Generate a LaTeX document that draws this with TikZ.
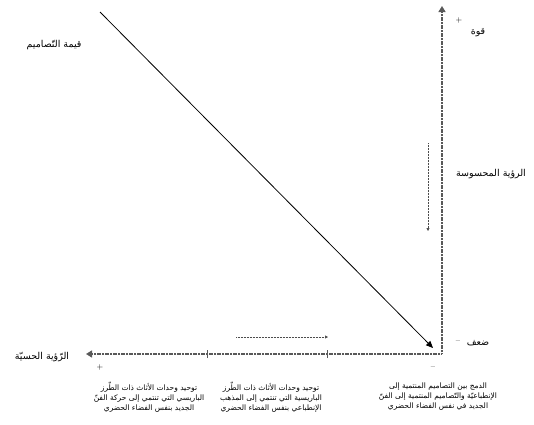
\documentclass[tikz,border=0pt]{standalone}
\usepackage{fontspec}
\newfontfamily\arabicfont[Script=Arabic]{DejaVu Sans}
\TeXXeTstate=1
\usetikzlibrary{arrows.meta}
\begin{document}
\begin{tikzpicture}[x=1pt,y=-1pt,
  axis/.style={draw=gray!70!black,line width=1.4pt,dash pattern=on 1.2pt off 0.4pt},
  lbl/.style={font=\arabicfont\fontsize{7.5}{10}\selectfont,inner sep=0pt,align=center},
  big/.style={font=\arabicfont\fontsize{9.5}{11}\selectfont,inner sep=0pt},
  sgn/.style={font=\fontsize{8}{9}\selectfont,inner sep=0pt},
  tick/.style={draw=gray!70!black,line width=0.6pt}]
\useasboundingbox (0,0) rectangle (534,424);
% axes
\coordinate (O) at (442,354);
\coordinate (Ytop) at (442,6);
\coordinate (Xleft) at (86,354);
\draw[axis,-{Triangle[length=6pt,width=7pt]}] (O) -- (Ytop);
\draw[axis,-{Triangle[length=6pt,width=7pt]}] (O) -- (Xleft);
\coordinate (T1) at (207,354);
\coordinate (T2) at (327,354);
\draw[tick] ([yshift=-4pt]T1) -- ([yshift=4pt]T1);
\draw[tick] ([yshift=-4pt]T2) -- ([yshift=4pt]T2);
% diagonal
\coordinate (D1) at (100,12);
\coordinate (D2) at (433,348);
\draw[line width=0.8pt,-{Triangle[length=7pt,width=6pt]}] (D1) -- (D2);
% dotted arrows
\coordinate (V1) at (428,143);
\coordinate (V2) at (428,231);
\draw[densely dotted,gray!60!black,line width=0.5pt,-{Triangle[length=3pt,width=3pt]}] (V1) -- (V2);
\coordinate (H1) at (236,337);
\coordinate (H2) at (328,337);
\draw[densely dotted,gray!60!black,line width=0.5pt,-{Triangle[length=3pt,width=3pt]}] (H1) -- (H2);
% signs
\node[sgn] (p1) at (459,20) {+};
\node[sgn] (m1) at (458,342) {--};
\node[sgn] (p2) at (100,367) {+};
\node[sgn] (m2) at (433,368) {--};
% labels
\node[big] (a) at (478,33) {\beginR قوة\endR};
\node[big] (b) at (491,174) {\beginR الرؤية المحسوسة\endR};
\node[big] (c) at (478,343) {\beginR ضعف\endR};
\node[big] (d) at (54,45) {\beginR قيمة التّصاميم\endR};
\node[big] (e) at (42,357) {\beginR الرّؤية الحسيّة\endR};
\node[lbl] (f) at (149,397) {\beginR توحيد وحدات الأثاث ذات الطّرز\endR\\\beginR الباريسي التي تنتمي إلى حركة الفنّ\endR\\\beginR الجديد بنفس الفضاء الحضري\endR};
\node[lbl] (g) at (271,397) {\beginR توحيد وحدات الأثاث ذات الطّرز\endR\\\beginR الباريسية التي تنتمي إلى المذهب\endR\\\beginR الإنطباعي بنفس الفضاء الحضري\endR};
\node[lbl] (h) at (438,397) {\beginR الدمج بين التصاميم المنتمية إلى\endR\\\beginR الإنطباعيّة والتّصاميم المنتمية إلى الفنّ\endR\\\beginR الجديد في نفس الفضاء الحضري\endR};
\end{tikzpicture}
\end{document}
